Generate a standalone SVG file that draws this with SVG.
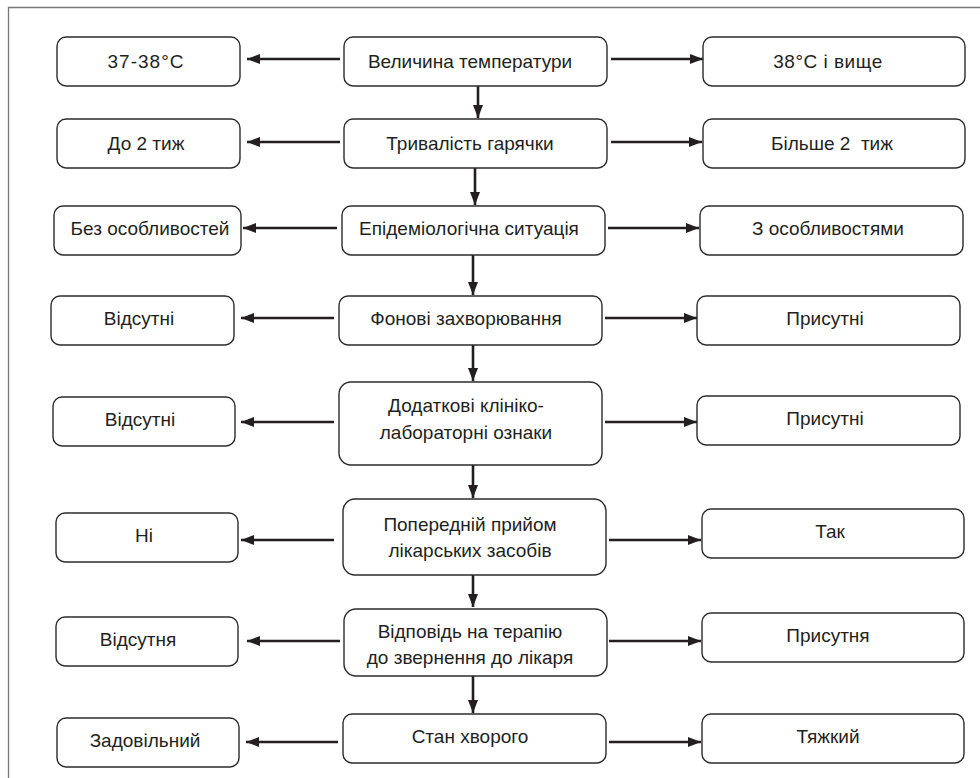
<svg xmlns="http://www.w3.org/2000/svg" width="980" height="778" viewBox="0 0 980 778">
<style>
.b{fill:#fff;stroke:#2b2b2b;stroke-width:1.4}
.t{font-family:"Liberation Sans",Arial,sans-serif;font-size:19px;fill:#231f20;text-anchor:middle}
.a{stroke:#231f20;stroke-width:2.6;fill:none;marker-end:url(#ah)}
</style>
<defs>
<marker id="ah" markerUnits="userSpaceOnUse" markerWidth="14" markerHeight="11" refX="13" refY="5" orient="auto" viewBox="0 0 14 10">
<path d="M0,0 L13,5 L0,10 z" fill="#231f20"/>
</marker>
</defs>
<rect width="980" height="778" fill="#fff"/>
<path d="M8.5 778 V7.5 H980" fill="none" stroke="#777" stroke-width="1.3"/>
<g id="connectors">
<line class="a" x1="340" y1="59" x2="247" y2="59"/>
<line class="a" x1="611" y1="59" x2="703" y2="59"/>
<line class="a" x1="478" y1="86" x2="478" y2="118"/>
<line class="a" x1="340" y1="142" x2="247" y2="142"/>
<line class="a" x1="611" y1="142" x2="702" y2="142"/>
<line class="a" x1="475" y1="168" x2="475" y2="205"/>
<line class="a" x1="337" y1="228" x2="243" y2="228"/>
<line class="a" x1="608" y1="228" x2="699" y2="228"/>
<line class="a" x1="473" y1="255" x2="473" y2="295"/>
<line class="a" x1="334" y1="318" x2="241" y2="318"/>
<line class="a" x1="605" y1="318" x2="697" y2="318"/>
<line class="a" x1="473" y1="345" x2="473" y2="381"/>
<line class="a" x1="334" y1="422" x2="241" y2="422"/>
<line class="a" x1="605" y1="422" x2="697" y2="422"/>
<line class="a" x1="473" y1="465" x2="473" y2="498"/>
<line class="a" x1="334" y1="540" x2="241" y2="540"/>
<line class="a" x1="609" y1="540" x2="701" y2="540"/>
<line class="a" x1="473" y1="575" x2="473" y2="607"/>
<line class="a" x1="340" y1="641" x2="247" y2="641"/>
<line class="a" x1="609" y1="641" x2="701" y2="641"/>
<line class="a" x1="473" y1="676" x2="473" y2="713"/>
<line class="a" x1="338" y1="742" x2="246" y2="742"/>
<line class="a" x1="609" y1="742" x2="701" y2="742"/>
</g>
<g id="n1"><rect class="b" x="344" y="37" width="263" height="49" rx="9"/><text class="t" x="470" y="68">Величина температури</text></g>
<g id="n1l"><rect class="b" x="57" y="37" width="183" height="49" rx="9"/><text class="t" x="146" y="68" letter-spacing="1">37-38°C</text></g>
<g id="n1r"><rect class="b" x="703" y="37" width="262" height="49" rx="9"/><text class="t" x="828" y="68" letter-spacing="0.5">38°C і вище</text></g>
<g id="n2"><rect class="b" x="344" y="119" width="263" height="49" rx="9"/><text class="t" x="470" y="150">Тривалість гарячки</text></g>
<g id="n2l"><rect class="b" x="57" y="119" width="183" height="49" rx="9"/><text class="t" x="146" y="150">До 2 тиж</text></g>
<g id="n2r"><rect class="b" x="703" y="119" width="262" height="49" rx="9"/><text class="t" x="832" y="150" xml:space="preserve">Більше 2  тиж</text></g>
<g id="n3"><rect class="b" x="342" y="206" width="263" height="49" rx="9"/><text class="t" x="469" y="235">Епідеміологічна ситуація</text></g>
<g id="n3l"><rect class="b" x="54" y="206" width="187" height="49" rx="9"/><text class="t" x="150" y="235">Без особливостей</text></g>
<g id="n3r"><rect class="b" x="700" y="206" width="263" height="49" rx="9"/><text class="t" x="828" y="235">З особливостями</text></g>
<g id="n4"><rect class="b" x="339" y="296" width="263" height="49" rx="9"/><text class="t" x="466" y="325">Фонові захворювання</text></g>
<g id="n4l"><rect class="b" x="51" y="296" width="183" height="49" rx="9"/><text class="t" x="139" y="325">Відсутні</text></g>
<g id="n4r"><rect class="b" x="697" y="296" width="263" height="49" rx="9"/><text class="t" x="825" y="325">Присутні</text></g>
<g id="n5"><rect class="b" x="339" y="382" width="263" height="83" rx="12"/><text class="t" x="466" y="412">Додаткові клініко-</text><text class="t" x="466" y="439">лабораторні ознаки</text></g>
<g id="n5l"><rect class="b" x="53" y="397" width="182" height="49" rx="9"/><text class="t" x="140" y="426">Відсутні</text></g>
<g id="n5r"><rect class="b" x="697" y="396" width="263" height="49" rx="9"/><text class="t" x="825" y="425">Присутні</text></g>
<g id="n6"><rect class="b" x="343" y="499" width="263" height="76" rx="12"/><text class="t" x="470" y="531">Попередній прийом</text><text class="t" x="470" y="557">лікарських засобів</text></g>
<g id="n6l"><rect class="b" x="56" y="513" width="182" height="49" rx="9"/><text class="t" x="144" y="542">Ні</text></g>
<g id="n6r"><rect class="b" x="702" y="509" width="262" height="49" rx="9"/><text class="t" x="830" y="538">Так</text></g>
<g id="n7"><rect class="b" x="344" y="609" width="263" height="67" rx="12"/><text class="t" x="470" y="638">Відповідь на терапію</text><text class="t" x="470" y="664">до звернення до лікаря</text></g>
<g id="n7l"><rect class="b" x="56" y="617" width="182" height="49" rx="9"/><text class="t" x="138" y="646">Відсутня</text></g>
<g id="n7r"><rect class="b" x="702" y="613" width="262" height="49" rx="9"/><text class="t" x="828" y="642">Присутня</text></g>
<g id="n8"><rect class="b" x="343" y="714" width="263" height="49" rx="9"/><text class="t" x="470" y="743">Стан хворого</text></g>
<g id="n8l"><rect class="b" x="57" y="718" width="182" height="49" rx="9"/><text class="t" x="145" y="747">Задовільний</text></g>
<g id="n8r"><rect class="b" x="702" y="714" width="262" height="49" rx="9"/><text class="t" x="828" y="743">Тяжкий</text></g>
</svg>
